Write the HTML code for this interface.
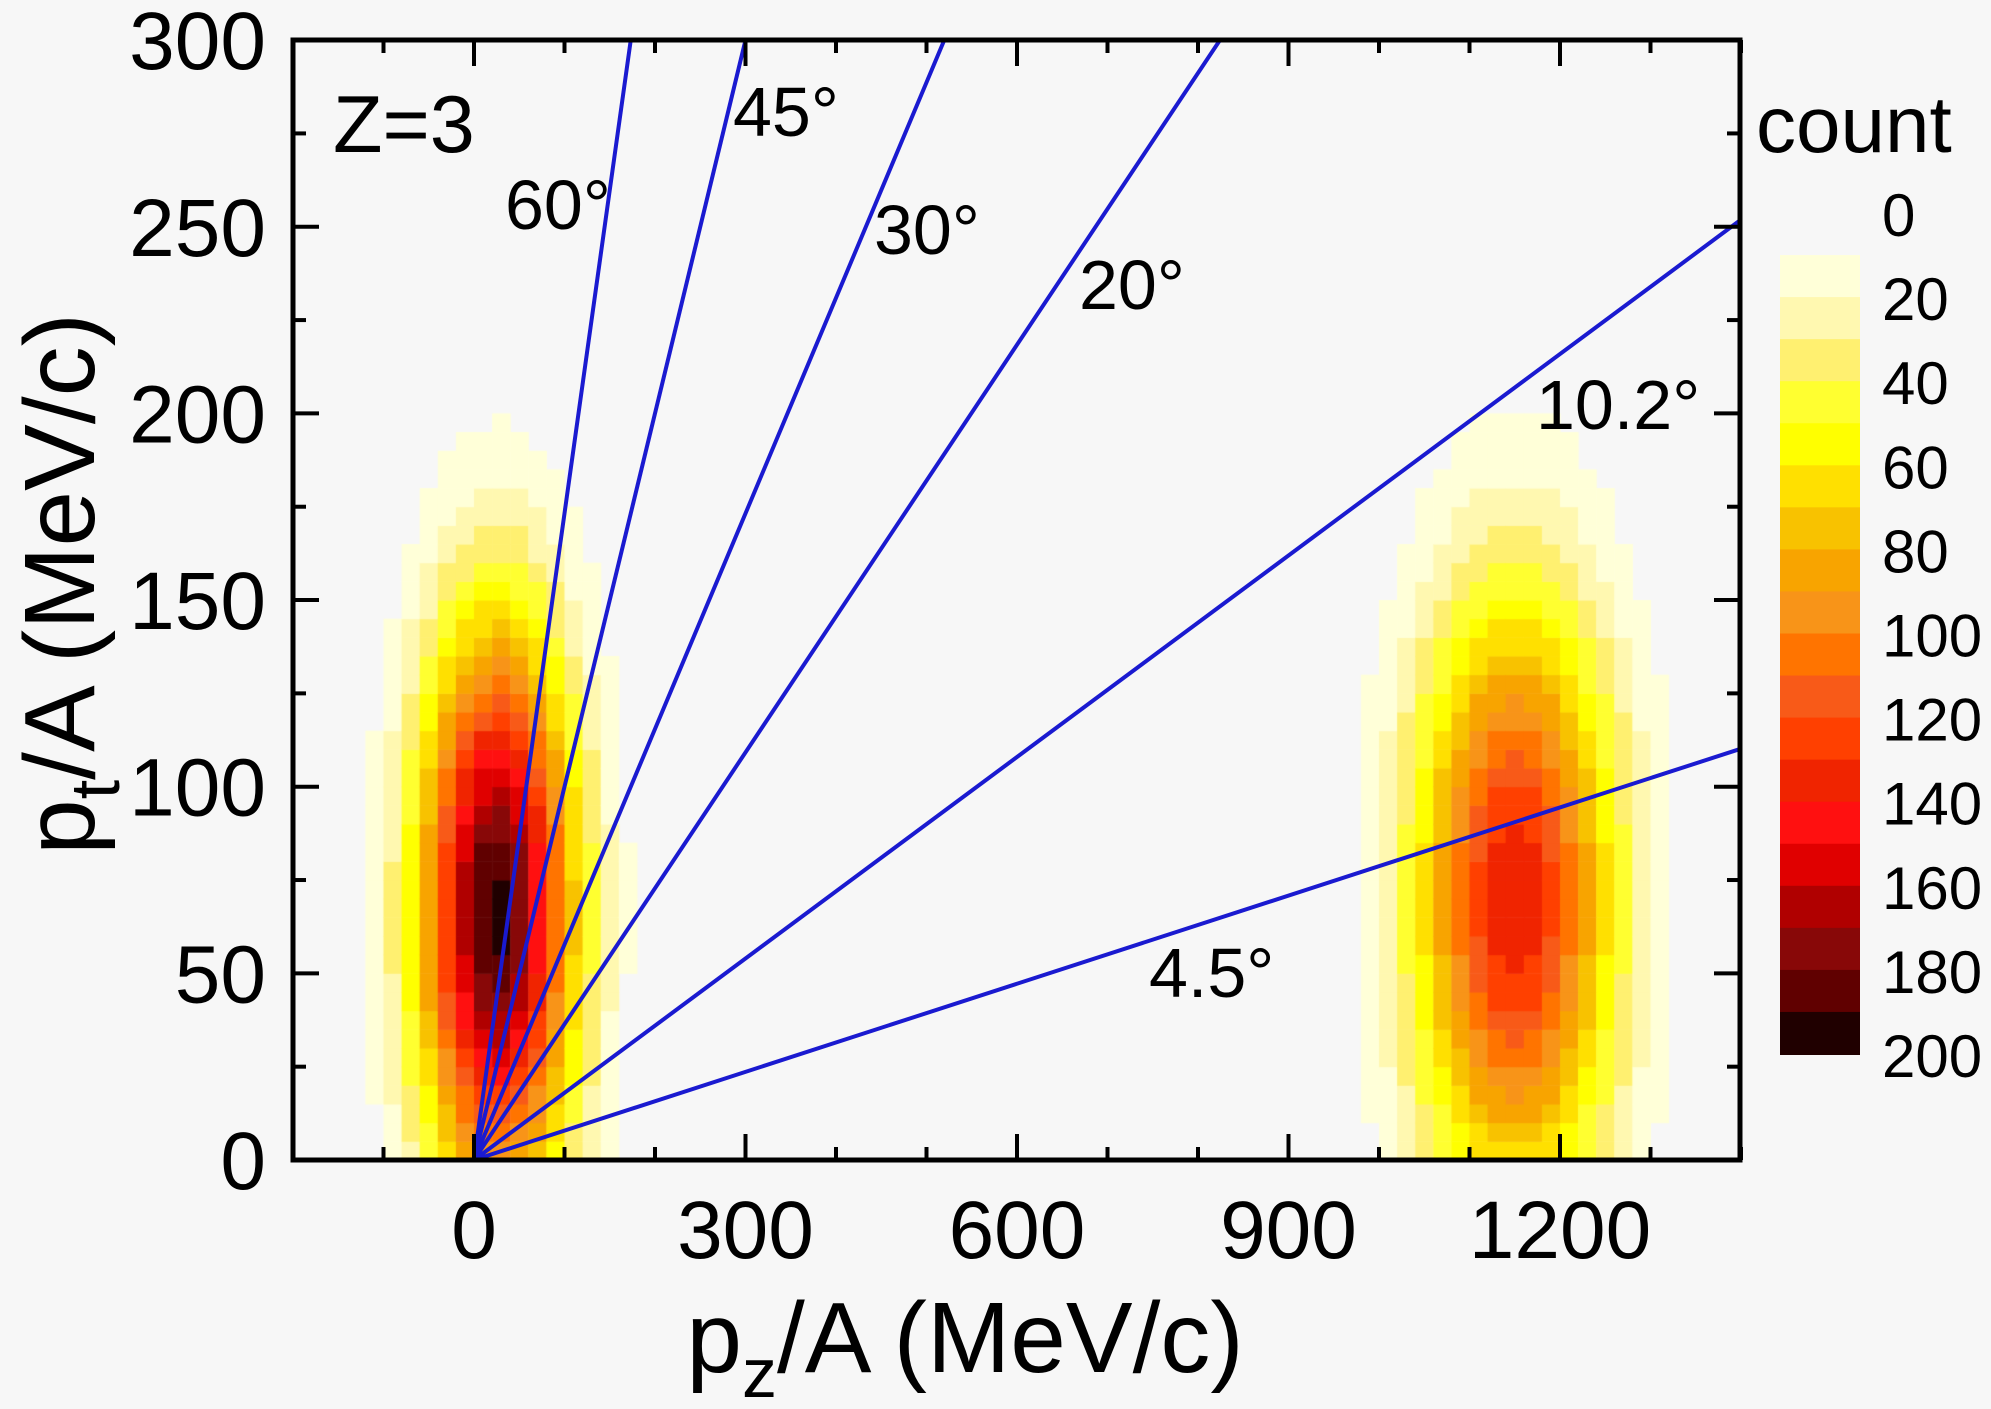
<!DOCTYPE html>
<html><head><meta charset="utf-8">
<style>
html,body{margin:0;padding:0;background:#f7f7f7;}
#wrap{position:relative;width:1991px;height:1409px;overflow:hidden;background:#f7f7f7;}
canvas{position:absolute;left:0;top:0;}
svg{position:absolute;left:0;top:0;}
text{font-family:"Liberation Sans",Arial,sans-serif;fill:#000;}
</style></head>
<body><div id="wrap">
<canvas id="c" width="1991" height="1409"></canvas>
<svg id="s" width="1991" height="1409" xmlns="http://www.w3.org/2000/svg">
<g id="lines" stroke="#1a1ad0" stroke-width="4" fill="none"></g>
<g id="ticks" stroke="#000" stroke-width="4"></g>
<rect x="293" y="40" width="1447" height="1120" fill="none" stroke="#000" stroke-width="5"/>
<g id="cb"></g>
<g font-size="82" text-anchor="end" id="ylab"></g>
<g font-size="82" text-anchor="middle" id="xlab"></g>
<text x="333" y="152" font-size="81">Z=3</text>
<g font-size="70">
<text x="505" y="229">60°</text>
<text x="733" y="136">45°</text>
<text x="874" y="254">30°</text>
<text x="1079" y="309">20°</text>
<text x="1536" y="429">10.2°</text>
<text x="1149" y="997">4.5°</text>
</g>
<text x="1756" y="152" font-size="80">count</text>
<text x="965" y="1372" font-size="100" text-anchor="middle">p<tspan font-size="70" dy="25">z</tspan><tspan dy="-25">/A (MeV/c)</tspan></text>
<text transform="translate(94,584) rotate(-90)" font-size="100" text-anchor="middle">p<tspan font-size="70" dy="25">t</tspan><tspan dy="-25">/A (MeV/c)</tspan></text>
</svg>
</div>
<script>
const X=p=>474+0.905*p, Y=p=>1160-3.733*p;
const cols=["#ffffd8","#fff8b0","#fff070","#ffff30","#ffff00","#ffe000","#f8c200","#f8a400","#f89418","#ff7400","#f85a18","#ff4000","#f02400","#ff1010","#e00000","#b00000","#880808","#600000","#200000"];
function col(v){if(v<10)return null;let i=Math.floor((v-10)/10);if(i>18)i=18;return cols[i];}
const ctx=document.getElementById('c').getContext('2d');
function f(x,y){
 let a=195*Math.exp(-((x-25)**2)/(2*60*60)-((y-66)**2)/(2*54*54));
 let b=140*Math.exp(-((x-1150)**2)/(2*78*78)-((y-70)**2)/(2*57*57));
 return a+b;}
ctx.save();ctx.beginPath();ctx.rect(293,40,1447,1120);ctx.clip();
for(let x=-200;x<1400;x+=20){for(let y=0;y<300;y+=5){
 const v=f(x+10,y+2.5);const c=col(v);if(!c)continue;
 ctx.fillStyle=c;const x0=X(x),x1=X(x+20),y0=Y(y+5),y1=Y(y);
 ctx.fillRect(x0,y0,x1-x0+0.5,y1-y0+0.5);}}
ctx.restore();
const ns="http://www.w3.org/2000/svg";
function el(g,t,a,txt){const e=document.createElementNS(ns,t);for(const k in a)e.setAttribute(k,a[k]);if(txt!==undefined)e.textContent=txt;document.getElementById(g).appendChild(e);}
[60,45,30,20,10.2,4.5].forEach(d=>{const t=Math.tan(d*Math.PI/180);let px=1400,pt=1400*t;if(pt>300){pt=300;px=300/t;}
 el('lines','line',{x1:X(0),y1:Y(0),x2:X(px),y2:Y(pt)});});
for(let p=-100;p<=1400;p+=100){const L=(p%300===0)?26:13;const x=X(p);
 el('ticks','line',{x1:x,y1:1160,x2:x,y2:1160-L});el('ticks','line',{x1:x,y1:40,x2:x,y2:40+L});
 if(p%300===0)el('xlab','text',{x:x,y:1258},String(p));}
for(let p=0;p<=300;p+=25){const L=(p%50===0)?26:13;const y=Y(p);
 el('ticks','line',{x1:293,y1:y,x2:293+L,y2:y});el('ticks','line',{x1:1740,y1:y,x2:1740-L,y2:y});
 if(p%50===0)el('ylab','text',{x:266,y:y+29},String(p));}
for(let i=0;i<19;i++){const v=10+i*10;el('cb','rect',{x:1780,y:213+v*4.205,width:80,height:10*4.205+1,fill:cols[i]});}
for(let v=0;v<=200;v+=20){el('cb','text',{x:1882,y:213+v*4.205+23,'font-size':60},String(v));}
</script>
</body></html>
